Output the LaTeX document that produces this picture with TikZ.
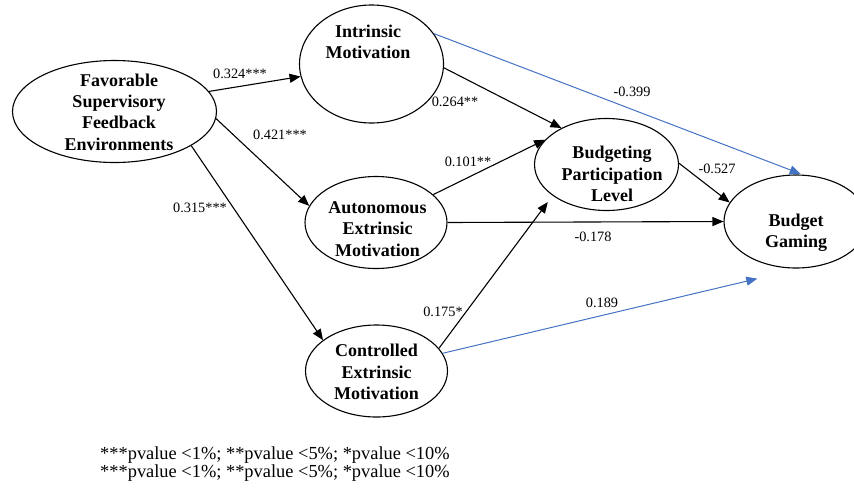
\documentclass[tikz,border=0pt]{standalone}
\usepackage{fontspec}
\setmainfont{Liberation Serif}
\usetikzlibrary{shapes.geometric,arrows.meta}
\definecolor{bluec}{RGB}{68,114,196}
\begin{document}
\begin{tikzpicture}[x=1pt,y=-1pt,
  ell/.style={draw, ellipse, line width=1.1pt, inner sep=0pt},
  nm/.style={font=\fontsize{18}{21.3}\selectfont\bfseries, align=center, inner sep=0pt},
  wt/.style={font=\fontsize{14.3}{16}\selectfont, inner sep=0pt},
  arr/.style={line width=1.1pt, -{Triangle[length=11pt,width=9pt]}},
  blu/.style={line width=1pt, draw=bluec, -{Triangle[length=11pt,width=9pt]}},
  foot/.style={font=\fontsize{18.4}{18.5}\selectfont, align=left, inner sep=0pt}]
\useasboundingbox (0,0) rectangle (854,488);
% ellipses
\node[ell, minimum width=204pt, minimum height=102pt] (fs) at (114.5,111.5) {};
\node[ell, minimum width=144pt, minimum height=118pt] (im) at (371.5,64) {};
\node[ell, minimum width=142pt, minimum height=92pt] (ae) at (376,222.5) {};
\node[ell, minimum width=142pt, minimum height=92pt] (ce) at (376.5,371) {};
\node[ell, minimum width=144pt, minimum height=92pt] (bp) at (606.5,164.5) {};
\node[ell, minimum width=144pt, minimum height=93pt] (bg) at (796,221.5) {};
% texts
\node[nm] (fst) at (119,112) {Favorable\\Supervisory\\Feedback\\Environments};
\node[nm] (imt) at (368,42) {Intrinsic\\Motivation};
\node[nm] (aet) at (377.5,229) {Autonomous\\Extrinsic\\Motivation};
\node[nm] (cet) at (376.5,372) {Controlled\\Extrinsic\\Motivation};
\node[nm] (bpt) at (612,174) {Budgeting\\Participation\\Level};
\node[nm] (bgt) at (796,232.5) {Budget\\Gaming};
% connectors
\draw[arr] (fs.12) -- (im.190);
\draw[arr] (fs.-4) -- (ae.166);
\draw[arr] (fs.-24) -- (ce.150);
\draw[arr] (im.-3) -- (bp.141);
\draw[blu, shorten >=2pt] (im.26) -- (bg.82);
\draw[arr] (ae.26) -- (bp.158);
\draw[arr] (ae.0) -- (bg.180);
\draw[arr, shorten >=8pt] (ce.20) -- (bp.210.6);
\draw[blu, shorten >=44pt] (ce.15) -- (bg.-85);
\draw[arr] (bp.1.5) -- (bg.164);
% weights
\node[wt] (w1) at (240,74) {0.324***};
\node[wt] (w2) at (280,135) {0.421***};
\node[wt] (w3) at (200,208) {0.315***};
\node[wt] (w4) at (455,102) {0.264**};
\node[wt] (w5) at (632,92) {-0.399};
\node[wt] (w6) at (468,162) {0.101**};
\node[wt] (w7) at (593,237) {-0.178};
\node[wt] (w8) at (443,312) {0.175*};
\node[wt] (w9) at (602,303) {0.189};
\node[wt] (w10) at (717,169) {-0.527};
% footnote
\node[foot, anchor=west] (fn1) at (100,455) {***pvalue <1\%; **pvalue <5\%; *pvalue <10\%};
\node[foot, anchor=west] (fn2) at (100,473.5) {***pvalue <1\%; **pvalue <5\%; *pvalue <10\%};
\end{tikzpicture}
\end{document}
